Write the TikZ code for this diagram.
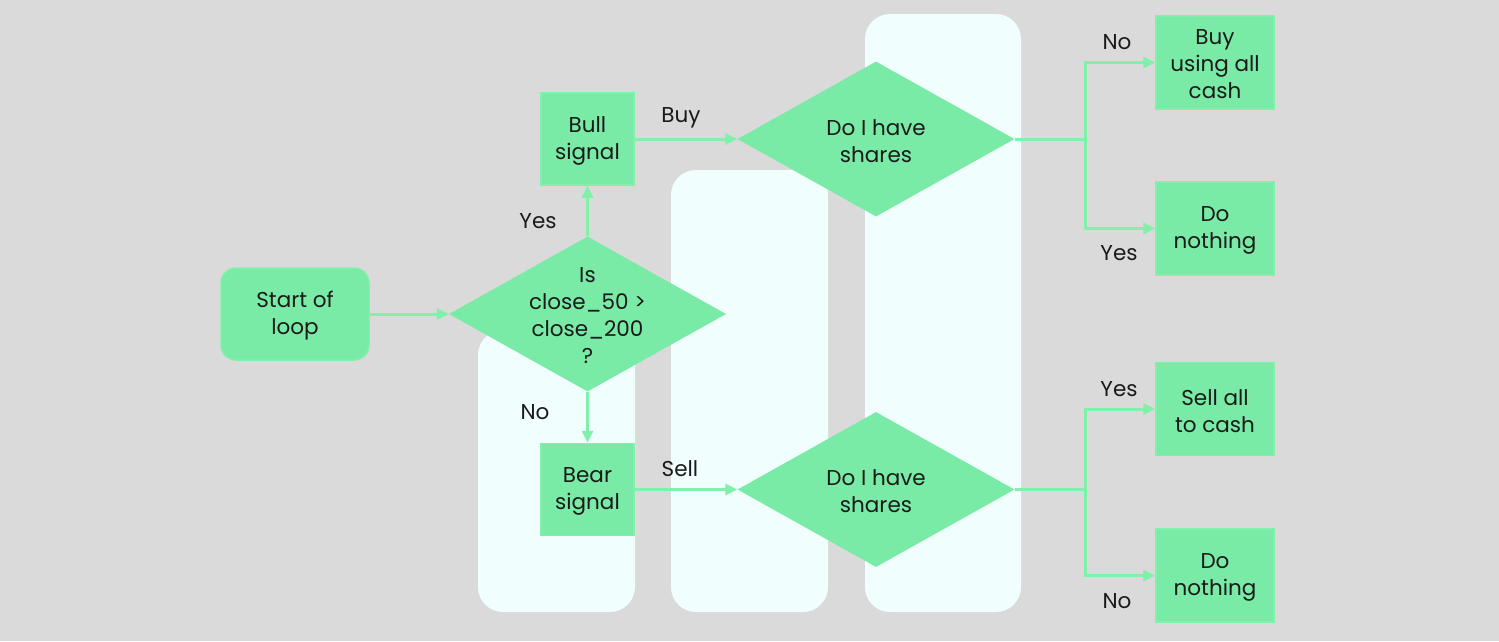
\documentclass[tikz,border=0pt]{standalone}
\usepackage{fontspec}
\setmainfont{Poppins}
\usetikzlibrary{shapes.geometric,arrows.meta}
\definecolor{bgc}{HTML}{DADADA}
\definecolor{colc}{HTML}{F0FFFD}
\definecolor{gfill}{HTML}{7AEBA6}
\definecolor{gline}{HTML}{80F0AA}
\definecolor{txt}{HTML}{1A1A1A}
\tikzset{
  column/.style={fill=colc, draw=none, rounded corners=25pt},
  box/.style={rectangle, fill=gfill, draw=gline, line width=1.5pt, minimum width=93pt, minimum height=92pt, inner sep=0pt},
  startbox/.style={box, rounded corners=15pt, minimum width=148pt},
  outbox/.style={box, minimum width=118pt, minimum height=93pt},
  decision/.style={diamond, fill=gfill, draw=none, minimum width=277pt, minimum height=155pt, inner sep=0pt},
  label/.style={text=txt, font=\fontsize{21.5}{27}\selectfont, align=center, inner sep=0pt, yshift=-2pt},
  arr/.style={draw=gline, line width=3pt, -{Triangle[length=12pt,width=11pt]}},
  conn/.style={draw=gline, line width=3pt},
}
\begin{document}
\begin{tikzpicture}[x=1pt,y=-1pt]
\useasboundingbox (0,0) rectangle (1499,641);
\fill[bgc] (0,0) rectangle (1499,641);
% light columns
\path[column] (478,330) rectangle (635,612);
\path[column] (671,170) rectangle (828,612);
\path[column] (865,14) rectangle (1021,612);
% nodes
\node[startbox] (start) at (295,314) {};
\node[label] at (start) {Start of\\loop};
\node[decision] (d1) at (587.5,314) {};
\node[label] at (587.5,314) {Is\\close\_50 >\\close\_200\\?};
\node[box] (bull) at (587.5,139) {};
\node[label] at (bull) {Bull\\signal};
\node[box] (bear) at (587.5,489.5) {};
\node[label] at (bear) {Bear\\signal};
\node[decision] (d2) at (876,139) {};
\node[label] at (d2) {Do I have\\shares};
\node[decision] (d3) at (876,489.5) {};
\node[label] at (d3) {Do I have\\shares};
\node[outbox] (buy) at (1215,62.5) {};
\node[label] at (buy) {Buy\\using all\\cash};
\node[outbox] (dn1) at (1215,228.5) {};
\node[label] at (dn1) {Do\\nothing};
\node[outbox] (sell) at (1215,409) {};
\node[label] at (sell) {Sell all\\to cash};
\node[outbox] (dn2) at (1215,575.5) {};
\node[label] at (dn2) {Do\\nothing};
% connectors
\draw[arr] (start.east) -- (d1.west);
\draw[arr] (d1.north) -- (bull.south);
\draw[arr] (d1.south) -- (bear.north);
\draw[arr] (bull.east) -- (d2.west);
\draw[arr] (bear.east) -- (d3.west);
\coordinate (b1) at (1085,139);
\coordinate (b2) at (1085,489.5);
\draw[conn] (d2.east) -- (b1);
\draw[arr] (b1) |- (buy.west);
\draw[arr] (b1) |- (dn1.west);
\draw[conn] (d3.east) -- (b2);
\draw[arr] (b2) |- (sell.west);
\draw[arr] (b2) |- (dn2.west);
% edge labels
\node[label] (lbuy) at (681,116) {Buy};
\node[label] (lsell) at (680,467) {Sell};
\node[label] (lyes1) at (538,219) {Yes};
\node[label] (lno1) at (535,410) {No};
\node[label] (lno2) at (1117,40) {No};
\node[label] (lyes2) at (1119,251) {Yes};
\node[label] (lyes3) at (1119,387) {Yes};
\node[label] (lno3) at (1117,599) {No};
\end{tikzpicture}
\end{document}
